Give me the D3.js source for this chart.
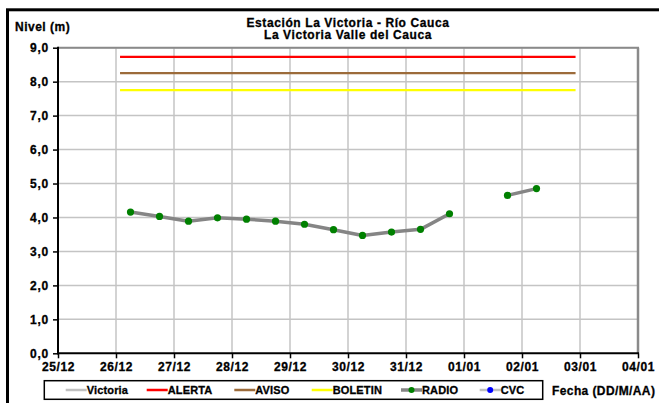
<!DOCTYPE html>
<html><head><meta charset="utf-8">
<script src="https://cdn.jsdelivr.net/npm/d3@7"></script>
<style>body{margin:0;background:#fff}svg{display:block}text{font-family:"Liberation Sans",Arial,sans-serif;font-weight:bold;fill:#000;stroke:#000;stroke-width:0.3px}</style>
</head><body><svg id="c" width="659" height="403"></svg>
<script>
// ---- data ----
const titleLines = ["Estación La Victoria - Río Cauca", "La Victoria Valle del Cauca"];
const xTickDates = ["2011-12-25","2011-12-26","2011-12-27","2011-12-28","2011-12-29","2011-12-30","2011-12-31","2012-01-01","2012-01-02","2012-01-03","2012-01-04"];
const xTickLabels = ["25/12","26/12","27/12","28/12","29/12","30/12","31/12","01/01","02/01","03/01","04/01"];
const yTicks = [0,1,2,3,4,5,6,7,8,9];
const radioTimes = ["2011-12-26T06:00","2011-12-26T18:00","2011-12-27T06:00","2011-12-27T18:00","2011-12-28T06:00","2011-12-28T18:00","2011-12-29T06:00","2011-12-29T18:00","2011-12-30T06:00","2011-12-30T18:00","2011-12-31T06:00","2011-12-31T18:00","2012-01-01T06:00","2012-01-01T18:00","2012-01-02T06:00"];
const radioValues = [4.16,4.03,3.89,3.99,3.95,3.89,3.80,3.64,3.47,3.57,3.65,4.11,null,4.65,4.85];
const thresholdNames = ["ALERTA","AVISO","BOLETIN"];
const thresholdValues = [8.73,8.25,7.75];
const thresholdSpan = ["2011-12-26T01:40","2012-01-02T22:10"];
const legendNames = ["Victoria","ALERTA","AVISO","BOLETIN","RADIO","CVC"];

// ---- drawing ----
const svg = d3.select("#c");
const parse = s => new Date(s.length===10 ? s+"T00:00" : s);
const L=58, R=638, T=47.7, B=353.3;
const x = d3.scaleTime().domain([parse(xTickDates[0]), parse(xTickDates[xTickDates.length-1])]).range([L,R]);
const y = d3.scaleLinear().domain([0,9]).range([B,T]);

// outer frame
svg.append("rect").attr("x",7.5).attr("y",9.8).attr("width",670).attr("height",420)
  .attr("fill","none").attr("stroke","#000").attr("stroke-width",3);

// gridlines
const g = svg.append("g");
g.selectAll("line.h").data(yTicks.slice(1)).join("line")
  .attr("x1",L).attr("x2",R).attr("y1",d=>y(d)).attr("y2",d=>y(d))
  .attr("stroke","#c4c4c4").attr("stroke-width",1.5);
g.selectAll("line.v").data(xTickDates.slice(1)).join("line")
  .attr("x1",d=>x(parse(d))).attr("x2",d=>x(parse(d))).attr("y1",T).attr("y2",B)
  .attr("stroke","#c4c4c4").attr("stroke-width",1.5);
// plot border top & right
svg.append("line").attr("x1",L).attr("x2",R+1).attr("y1",T).attr("y2",T).attr("stroke","#8a8a8a").attr("stroke-width",2);
svg.append("line").attr("x1",R).attr("x2",R).attr("y1",T).attr("y2",B).attr("stroke","#8a8a8a").attr("stroke-width",2.5);

// threshold lines
const thrColors = {"ALERTA":"#ff0000","AVISO":"#9c6b3a","BOLETIN":"#ffff00"};
thresholdNames.forEach((n,i)=>{
  svg.append("path").datum(thresholdSpan.map(t=>[parse(t),thresholdValues[i]]))
    .attr("d",d3.line().x(d=>x(d[0])).y(d=>y(d[1])))
    .attr("stroke",thrColors[n]).attr("stroke-width",2.2).attr("fill","none");
});

// RADIO series
const radio = radioTimes.map((t,i)=>({t:parse(t),v:radioValues[i]}));
svg.append("path").datum(radio)
  .attr("d",d3.line().defined(d=>d.v!=null).x(d=>x(d.t)).y(d=>y(d.v)))
  .attr("stroke","#858585").attr("stroke-width",3.5).attr("fill","none").attr("stroke-linejoin","round");
svg.selectAll("circle.r").data(radio.filter(d=>d.v!=null)).join("circle")
  .attr("cx",d=>x(d.t)).attr("cy",d=>y(d.v)).attr("r",3.6).attr("fill","#008000");

// axes
const ya = svg.append("g").attr("transform",`translate(${L},0)`)
  .call(d3.axisLeft(y).tickValues(yTicks).tickSize(5).tickFormat(d=>d3.format(".1f")(d).replace(".",",")));
ya.select(".domain").attr("stroke","#000").attr("stroke-width",2).attr("d",`M0,${B+1}V${T-1}`);
ya.selectAll(".tick line").attr("stroke","#000").attr("stroke-width",1.5);
ya.selectAll(".tick text").attr("x",-9).attr("dy","0.35em").attr("stroke","#000").attr("stroke-width",0.3).style("font-size","12px").style("letter-spacing","0.8px").style("font-family","Liberation Sans, Arial").style("font-weight","bold");

const xa = svg.append("g").attr("transform",`translate(0,${B})`)
  .call(d3.axisBottom(x).tickValues(xTickDates.map(parse)).tickSize(5).tickFormat((d,i)=>xTickLabels[i]));
xa.select(".domain").attr("stroke","#000").attr("stroke-width",2).attr("d",`M${L-1},0H${R+1}`);
xa.selectAll(".tick line").attr("stroke","#000").attr("stroke-width",1.5);
xa.selectAll(".tick text").attr("y",9).attr("dy","0.71em").attr("stroke","#000").attr("stroke-width",0.3).style("font-size","12px").style("letter-spacing","0.6px").style("font-family","Liberation Sans, Arial").style("font-weight","bold");

// titles
svg.append("text").attr("x",(L+R)/2).attr("y",26.5).attr("text-anchor","middle").style("font-size","12px").style("letter-spacing","0.6px").text(titleLines[0]);
svg.append("text").attr("x",(L+R)/2).attr("y",39.3).attr("text-anchor","middle").style("font-size","12px").style("letter-spacing","0.6px").text(titleLines[1]);
svg.append("text").attr("x",15).attr("y",31).style("font-size","12px").style("letter-spacing","0.5px").text("Nivel (m)");
svg.append("text").attr("x",552).attr("y",394.5).style("font-size","12px").style("letter-spacing","0.4px").text("Fecha (DD/M/AA)");

// legend
svg.append("rect").attr("x",44.3).attr("y",380.7).attr("width",498.4).attr("height",18.6)
  .attr("fill","#fff").attr("stroke","#000").attr("stroke-width",1.5);
const legX = [65.7,146.7,234.3,311.7,401,479.7];
const legStyle = {
  "Victoria":{c:"#c0c0c0",w:2.5,m:null},
  "ALERTA":{c:"#ff0000",w:2.5,m:null},
  "AVISO":{c:"#9c6b3a",w:2.5,m:null},
  "BOLETIN":{c:"#ffff00",w:2.5,m:null},
  "RADIO":{c:"#858585",w:3.5,m:"#008000"},
  "CVC":{c:"#c0c0c0",w:2.5,m:"#0000ff"}
};
legendNames.forEach((n,i)=>{
  const s=legStyle[n], lx=legX[i], ly=390;
  svg.append("line").attr("x1",lx).attr("x2",lx+21).attr("y1",ly).attr("y2",ly).attr("stroke",s.c).attr("stroke-width",s.w);
  if(s.m) svg.append("circle").attr("cx",lx+10.5).attr("cy",ly).attr("r",3).attr("fill",s.m);
  svg.append("text").attr("x",lx+21).attr("y",394).style("font-size","11px").style("letter-spacing","0.15px").text(n);
});
</script></body></html>
